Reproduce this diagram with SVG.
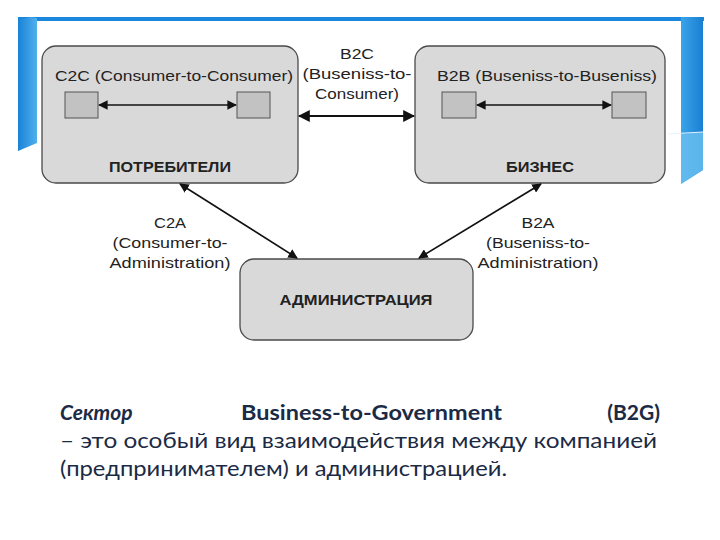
<svg xmlns="http://www.w3.org/2000/svg" width="720" height="540" viewBox="0 0 720 540">
<defs>
<linearGradient id="blueV" x1="0" y1="0" x2="1" y2="0">
<stop offset="0" stop-color="#1a82d6"/>
<stop offset="1" stop-color="#4fb0ee"/>
</linearGradient>
<linearGradient id="blueR" x1="0" y1="0" x2="1" y2="0">
<stop offset="0" stop-color="#3aa4ea"/>
<stop offset="1" stop-color="#1a7fd2"/>
</linearGradient>
<marker id="ah" viewBox="0 0 10 10" refX="9" refY="5" markerWidth="6" markerHeight="6" orient="auto-start-reverse">
<path d="M0,0 L10,5 L0,10 z" fill="#111"/>
</marker>
<style>
.box{fill:#d9d9d9;stroke:#4a4a4a;stroke-width:1.3}
.sq{fill:#c2c2c2;stroke:#555;stroke-width:1}
.lbl{font-family:"Liberation Sans",Arial,sans-serif;font-size:15px;fill:#222}
.b{font-weight:bold}
.mid{text-anchor:middle}
.con{stroke:#111;fill:none;marker-start:url(#ah);marker-end:url(#ah)}
.body{font-family:Lato,"Open Sans",sans-serif;font-size:21px;fill:#1b2a45}
</style>
</defs>
<rect width="720" height="540" fill="#fff"/>
<g id="frame">
<rect x="18" y="17" width="686" height="4" fill="#1a86dc"/>
<polygon points="18,20 30,17 37,18 37,143 18,151" fill="url(#blueV)"/>
<polygon points="681,17 703,17 703,170 681,184" fill="url(#blueR)"/>
<polygon points="681,134 703,132 703,170 681,184" fill="#6cc0f0" opacity="0.8"/>
<line x1="668" y1="134" x2="703" y2="132" stroke="#e8f4fc" stroke-width="1"/>
</g>
<g id="consumers">
<rect class="box" x="42" y="46" width="256" height="137" rx="14"/>
<text class="lbl" x="55" y="81" textLength="238" lengthAdjust="spacingAndGlyphs">C2C (Consumer-to-Consumer)</text>
<rect class="sq" x="65" y="92" width="33" height="26"/>
<rect class="sq" x="237" y="92" width="33" height="26"/>
<text class="lbl b mid" x="170" y="172" textLength="122" lengthAdjust="spacingAndGlyphs">ПОТРЕБИТЕЛИ</text>
</g>
<g id="business">
<rect class="box" x="415" y="46" width="250" height="137" rx="14"/>
<text class="lbl" x="437" y="81" textLength="220" lengthAdjust="spacingAndGlyphs">B2B (Buseniss-to-Buseniss)</text>
<rect class="sq" x="442" y="92" width="34" height="26"/>
<rect class="sq" x="612" y="92" width="34" height="26"/>
<text class="lbl b mid" x="540" y="172" textLength="68" lengthAdjust="spacingAndGlyphs">БИЗНЕС</text>
</g>
<g id="administration">
<rect class="box" x="240" y="259" width="233" height="81" rx="14"/>
<text class="lbl b mid" x="356" y="305" textLength="153" lengthAdjust="spacingAndGlyphs">АДМИНИСТРАЦИЯ</text>
</g>
<g id="connectors">
<line class="con" x1="99" y1="105" x2="236" y2="105" stroke-width="1.6"/>
<line class="con" x1="477" y1="105" x2="611" y2="105" stroke-width="1.6"/>
<line class="con" x1="299" y1="116" x2="414" y2="116" stroke-width="2"/>
<line class="con" x1="180" y1="184" x2="297" y2="258" stroke-width="1.6"/>
<line class="con" x1="541" y1="184" x2="419" y2="258" stroke-width="1.6"/>
</g>
<g id="labels">
<text class="lbl mid" x="357" y="59" textLength="34" lengthAdjust="spacingAndGlyphs">B2C</text>
<text class="lbl mid" x="357" y="79" textLength="109" lengthAdjust="spacingAndGlyphs">(Buseniss-to-</text>
<text class="lbl mid" x="357" y="99" textLength="84" lengthAdjust="spacingAndGlyphs">Consumer)</text>
<text class="lbl mid" x="170" y="228" textLength="32" lengthAdjust="spacingAndGlyphs">C2A</text>
<text class="lbl mid" x="170" y="248" textLength="115" lengthAdjust="spacingAndGlyphs">(Consumer-to-</text>
<text class="lbl mid" x="170" y="268" textLength="121" lengthAdjust="spacingAndGlyphs">Administration)</text>
<text class="lbl mid" x="538" y="228" textLength="33" lengthAdjust="spacingAndGlyphs">B2A</text>
<text class="lbl mid" x="538" y="248" textLength="104" lengthAdjust="spacingAndGlyphs">(Buseniss-to-</text>
<text class="lbl mid" x="538" y="268" textLength="121" lengthAdjust="spacingAndGlyphs">Administration)</text>
</g>
<g id="caption">
<text class="body" x="60" y="420" font-weight="bold" font-style="italic">Сектор</text>
<text class="body" x="241" y="420" font-weight="bold" textLength="261" lengthAdjust="spacingAndGlyphs">Business-to-Government</text>
<text class="body" x="660" y="420" font-weight="bold" text-anchor="end">(B2G)</text>
<text class="body" x="60" y="448" textLength="597" lengthAdjust="spacingAndGlyphs">– это особый вид взаимодействия между компанией</text>
<text class="body" x="60" y="476" textLength="447" lengthAdjust="spacingAndGlyphs">(предпринимателем) и администрацией.</text>
</g>
</svg>
